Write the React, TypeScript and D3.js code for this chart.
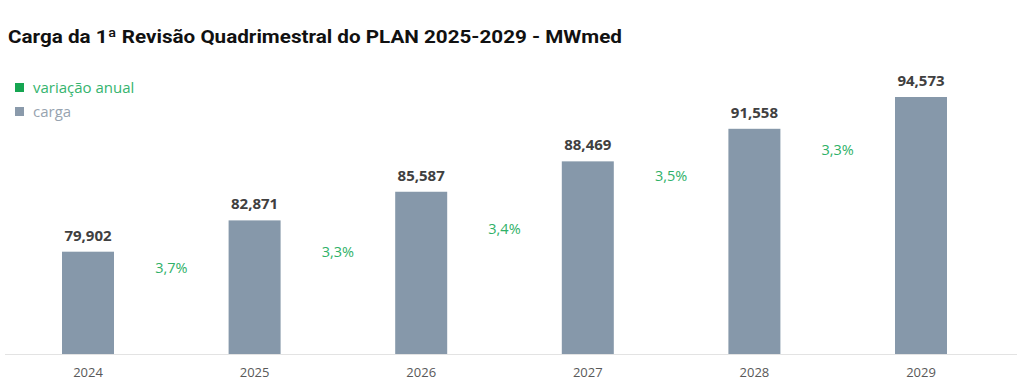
import React from "react";
import * as d3 from "d3";

const years: string[] = ["2024", "2025", "2026", "2027", "2028", "2029"];
const carga: number[] = [79902, 82871, 85587, 88469, 91558, 94573];
const variacaoLabels: string[] = ["3,7%", "3,3%", "3,4%", "3,5%", "3,3%"];
// vertical placement of the variation labels, expressed on the carga axis (MWmed)
const variacaoLevel: number[] = [77880, 79400, 81580, 86600, 89070];

const title = "Carga da 1ª Revisão Quadrimestral do PLAN 2025-2029 - MWmed";
const legendItems = [
  { label: "variação anual", box: "#15a551", text: "#35b46e" },
  { label: "carga", box: "#8a9aab", text: "#97a3b0" },
];

const W = 1024;
const H = 388;
const BAR_COLOR = "#8698aa";
const PCT_COLOR = "#2fb168";
const FONT = "'Open Sans', 'Noto Sans', sans-serif";

export default function App() {
  const x = d3.scalePoint<string>().domain(years).range([4.7, 1004.3]).padding(0.5);
  const y = d3.scaleLinear().domain([70200, 95000]).range([354, 92.5]);
  const barW = 52;
  const fmt = (v: number) => d3.format(",")(v);

  return (
    <svg
      width={W}
      height={H}
      style={{ position: "absolute", left: 0, top: 0, background: "#fff" }}
      fontFamily={FONT}
    >
      <text
        x={8}
        y={43}
        fontSize={18}
        fontWeight={700}
        fill="#111"
        fontFamily="Roboto, 'Open Sans', sans-serif"
        textLength={614}
        lengthAdjust="spacingAndGlyphs"
      >
        {title}
      </text>

      {legendItems.map((d, i) => (
        <g key={d.label} transform={`translate(15, ${83 + i * 24})`}>
          <rect x={0} y={0} width={9} height={9} fill={d.box} />
          <text x={18} y={9.5} fontSize={15} fill={d.text} fontWeight={500}>
            {d.label}
          </text>
        </g>
      ))}

      <line x1={5} x2={1017} y1={354.5} y2={354.5} stroke="#e3e3e3" strokeWidth={1} />

      {years.map((yr, i) => {
        const cx = x(yr)!;
        const top = y(carga[i]);
        return (
          <g key={yr}>
            <rect x={cx - barW / 2} y={top} width={barW} height={354 - top} fill={BAR_COLOR} />
            <text
              x={cx}
              y={top - 11}
              textAnchor="middle"
              fontSize={15}
              fontWeight={700}
              fill="#404040"
            >
              {fmt(carga[i])}
            </text>
            <text x={cx} y={377} textAnchor="middle" fontSize={13} fill="#595959">
              {yr}
            </text>
          </g>
        );
      })}

      {variacaoLabels.map((lab, i) => {
        const cx = (x(years[i])! + x(years[i + 1])!) / 2;
        return (
          <text
            key={i}
            x={cx}
            y={y(variacaoLevel[i])}
            textAnchor="middle"
            fontSize={14.5}
            fontWeight={500}
            fill={PCT_COLOR}
          >
            {lab}
          </text>
        );
      })}
    </svg>
  );
}
